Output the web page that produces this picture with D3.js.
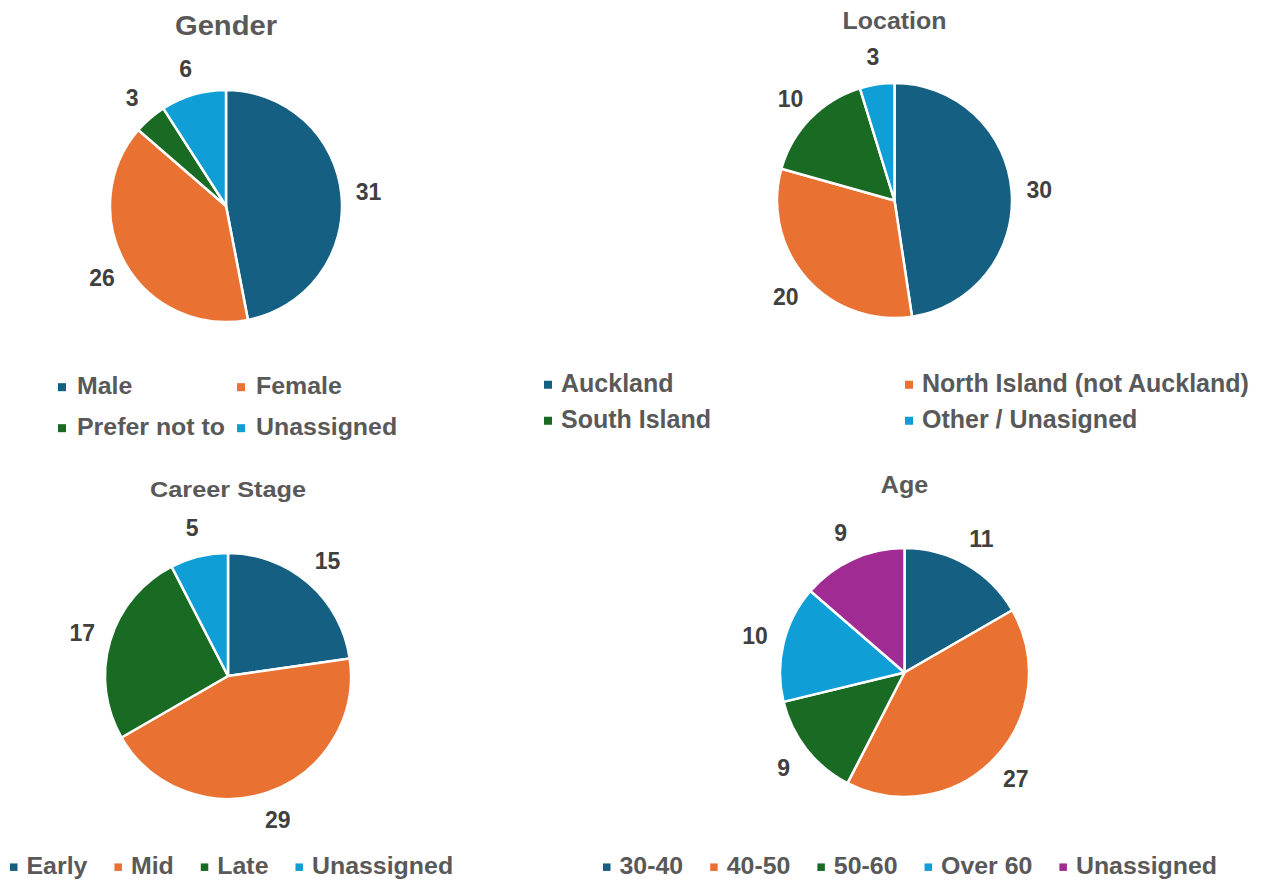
<!DOCTYPE html>
<html>
<head>
<meta charset="utf-8">
<script src="https://cdn.jsdelivr.net/npm/d3@7"></script>
<style>
  html, body { margin: 0; padding: 0; background: #ffffff; }
  svg { display: block; font-family: "Liberation Sans", Arial, Helvetica, sans-serif; font-weight: bold; }
</style>
</head>
<body>
<svg id="chart" width="1262" height="880"></svg>
<script>
// ---- Data ----
const genderCategories = ["Male", "Female", "Prefer not to", "Unassigned"];
const genderValues = [31, 26, 3, 6];

const locationCategories = ["Auckland", "North Island (not Auckland)", "South Island", "Other / Unasigned"];
const locationValues = [30, 20, 10, 3];

const careerCategories = ["Early", "Mid", "Late", "Unassigned"];
const careerValues = [15, 29, 17, 5];

const ageCategories = ["30-40", "40-50", "50-60", "Over 60", "Unassigned"];
const ageValues = [11, 27, 9, 10, 9];

const palette = ["#156082", "#E97132", "#196B24", "#0F9ED5", "#A02B93"];

// ---- Layout ----
const charts = [
  { title: "Gender", categories: genderCategories, values: genderValues,
    cx: 226, cy: 206, r: 116, titleY: 35, titleSize: 27, titleScale: 1.08,
    legend: { type: "grid", cols: [58, 237], rows: [394, 435], size: 23.5, scale: 1.06, sq: 8, textOff: 19 } },
  { title: "Location", categories: locationCategories, values: locationValues,
    cx: 894.5, cy: 200.5, r: 117.5, titleY: 29, titleSize: 24, titleScale: 1.04,
    legend: { type: "grid", cols: [544, 905], rows: [392, 428], size: 25, scale: 1.0, sq: 8, textOff: 17 } },
  { title: "Career Stage", categories: careerCategories, values: careerValues,
    cx: 228, cy: 676, r: 123, titleY: 497, titleSize: 22, titleScale: 1.15,
    legend: { type: "row", x0: 10, y: 874, size: 23.5, scale: 1.06, sq: 7.5, textOff: 16.5, gap: 27 } },
  { title: "Age", categories: ageCategories, values: ageValues,
    cx: 904.5, cy: 672.5, r: 124.5, titleY: 493, titleSize: 23, titleScale: 1.09,
    legend: { type: "row", x0: 603, y: 874, size: 23.5, scale: 1.06, sq: 7.5, textOff: 16.5, gap: 27 } }
];

const svg = d3.select("#chart");
const titleColor = "#595959";
const labelColor = "#404040";

charts.forEach(c => {
  const color = d3.scaleOrdinal().domain(c.categories).range(palette);
  const pie = d3.pie().sort(null).value(d => d.value);
  const data = c.categories.map((k, i) => ({ key: k, value: c.values[i] }));
  const arcs = pie(data);
  const arc = d3.arc().innerRadius(0).outerRadius(c.r);
  const labelR = c.r * 1.235;
  const labelArc = d3.arc().innerRadius(labelR).outerRadius(labelR);

  // Title
  svg.append("text")
    .attr("transform", `translate(${c.cx},${c.titleY}) scale(${c.titleScale},1)`)
    .attr("text-anchor", "middle")
    .attr("font-size", c.titleSize)
    .attr("fill", titleColor)
    .text(c.title);

  const g = svg.append("g").attr("transform", `translate(${c.cx},${c.cy})`);
  g.selectAll("path")
    .data(arcs)
    .join("path")
    .attr("d", arc)
    .attr("fill", d => color(d.data.key))
    .attr("stroke", "#ffffff")
    .attr("stroke-width", 2.5)
    .attr("stroke-linejoin", "round");

  g.selectAll("text.lbl")
    .data(arcs)
    .join("text")
    .attr("class", "lbl")
    .attr("transform", d => `translate(${labelArc.centroid(d)})`)
    .attr("text-anchor", "middle")
    .attr("dominant-baseline", "central")
    .attr("font-size", 23)
    .attr("fill", labelColor)
    .text(d => d.data.value);

  // Legend
  const L = c.legend;
  const lg = svg.append("g");
  if (L.type === "grid") {
    c.categories.forEach((k, i) => {
      const x = L.cols[i % 2];
      const y = L.rows[Math.floor(i / 2)];
      lg.append("rect")
        .attr("x", x).attr("y", y - L.size * 0.29 - L.sq / 2)
        .attr("width", L.sq).attr("height", L.sq)
        .attr("fill", color(k));
      lg.append("text")
        .attr("transform", `translate(${x + L.textOff},${y}) scale(${L.scale},1)`)
        .attr("font-size", L.size)
        .attr("fill", titleColor)
        .text(k);
    });
  } else {
    let x = L.x0;
    c.categories.forEach((k) => {
      lg.append("rect")
        .attr("x", x).attr("y", L.y - L.size * 0.29 - L.sq / 2)
        .attr("width", L.sq).attr("height", L.sq)
        .attr("fill", color(k));
      const t = lg.append("text")
        .attr("transform", `translate(${x + L.textOff},${L.y}) scale(${L.scale},1)`)
        .attr("font-size", L.size)
        .attr("fill", titleColor)
        .text(k);
      const w = t.node().getComputedTextLength() * L.scale;
      x = x + L.textOff + w + L.gap;
    });
  }
});
</script>
</body>
</html>
